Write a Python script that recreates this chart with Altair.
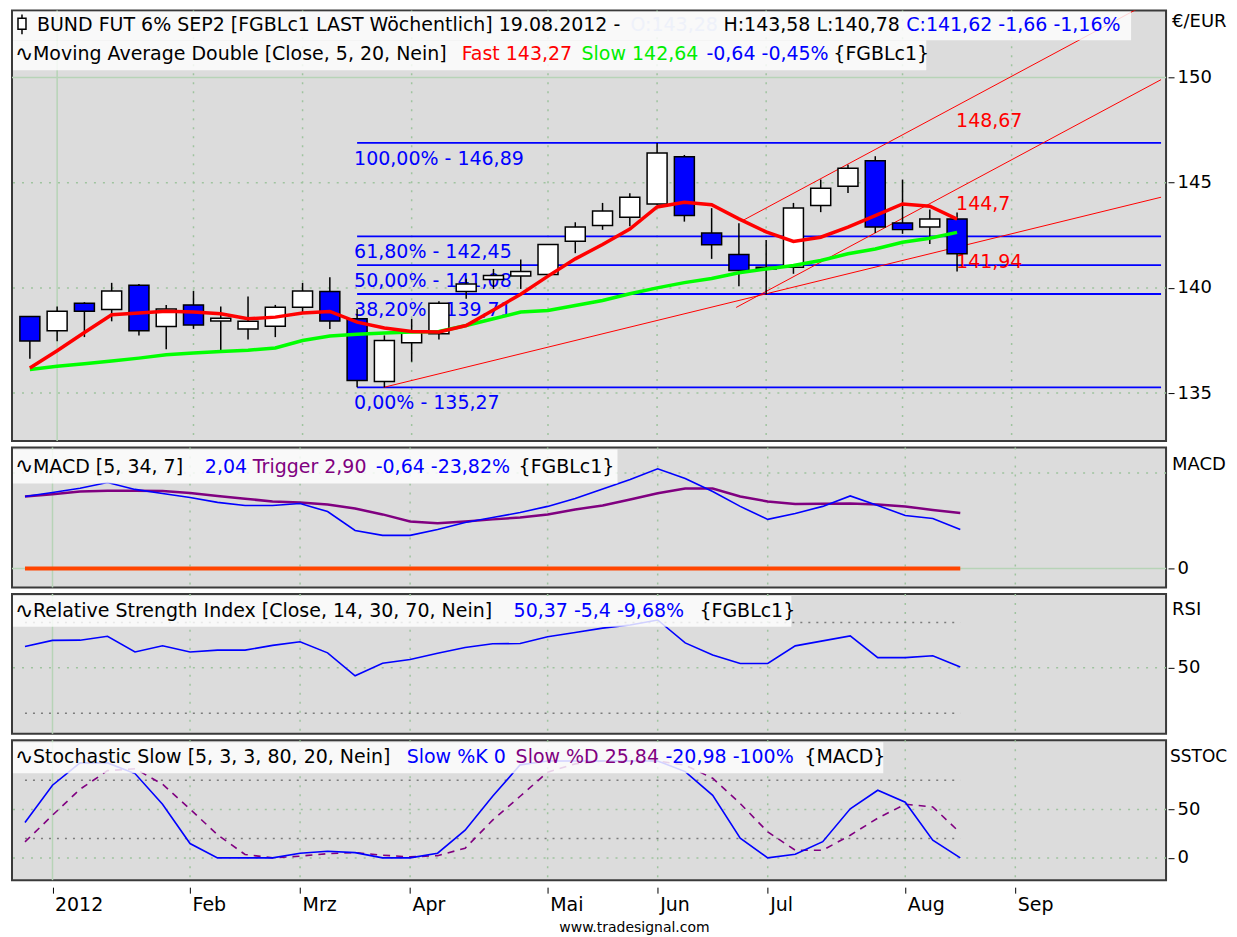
import altair as alt
import pandas as pd

# ------------------------------------------------------------------ data
week_start = ["25.12.2011", "01.01.2012", "08.01.2012", "15.01.2012", "22.01.2012", "29.01.2012",
              "05.02.2012", "12.02.2012", "19.02.2012", "26.02.2012", "04.03.2012", "11.03.2012",
              "18.03.2012", "25.03.2012", "01.04.2012", "08.04.2012", "15.04.2012", "22.04.2012",
              "29.04.2012", "06.05.2012", "13.05.2012", "20.05.2012", "27.05.2012", "03.06.2012",
              "10.06.2012", "17.06.2012", "24.06.2012", "01.07.2012", "08.07.2012", "15.07.2012",
              "22.07.2012", "29.07.2012", "05.08.2012", "12.08.2012", "19.08.2012"]
bar_index = list(range(35))

opens = [138.64, 137.96, 139.27, 138.97, 140.12, 138.17, 139.19, 138.42, 138.05, 138.18, 139.08, 139.83,
         138.53, 135.55, 137.39, 137.82, 139.83, 140.40, 140.56, 140.64, 142.22, 142.97, 143.36, 143.99,
         146.24, 142.61, 141.59, 140.98, 140.98, 143.92, 144.83, 146.05, 143.09, 142.89, 143.28]
highs = [138.66, 139.12, 139.32, 140.24, 140.18, 139.19, 139.85, 139.12, 139.59, 139.19, 140.24, 140.51,
         139.00, 137.74, 138.53, 139.36, 140.43, 140.90, 141.35, 142.08, 143.12, 144.04, 144.50, 146.89,
         146.32, 143.79, 143.07, 142.28, 144.04, 145.15, 145.85, 146.26, 145.15, 143.73, 143.58]
lows = [136.63, 137.46, 137.66, 138.41, 137.74, 137.08, 138.05, 137.03, 137.55, 137.66, 138.85, 138.05,
        135.28, 135.27, 136.49, 137.55, 139.48, 139.95, 139.95, 140.64, 141.65, 142.76, 142.93, 143.95,
        143.15, 141.38, 140.08, 139.67, 140.67, 143.60, 144.51, 142.61, 142.57, 142.09, 140.78]
closes = [137.48, 138.89, 138.89, 139.85, 137.96, 139.00, 138.24, 138.56, 138.41, 139.08, 139.85, 138.42,
          135.60, 137.50, 137.94, 139.27, 140.19, 140.59, 140.78, 142.06, 142.89, 143.65, 144.31, 146.41,
          143.44, 142.05, 140.83, 140.90, 143.80, 144.74, 145.69, 142.89, 142.77, 143.28, 141.62]
ma_fast = [136.19, 137.01, 137.88, 138.72, 138.81, 138.89, 138.85, 138.77, 138.53, 138.61, 138.81, 138.88,
           138.37, 138.09, 137.93, 137.90, 138.21, 138.95, 139.70, 140.56, 141.38, 142.06, 142.80, 143.85,
           144.07, 143.95, 143.28, 142.66, 142.21, 142.41, 142.89, 143.44, 143.99, 143.88, 143.27]
ma_slow = [136.12, 136.27, 136.39, 136.52, 136.66, 136.82, 136.90, 136.98, 137.04, 137.14, 137.50, 137.71,
           137.80, 137.85, 137.90, 137.93, 138.21, 138.53, 138.85, 138.93, 139.16, 139.40, 139.72, 140.00,
           140.25, 140.45, 140.72, 140.90, 141.06, 141.30, 141.62, 141.85, 142.17, 142.36, 142.64]

macd_line = [3.77, 3.98, 4.20, 4.50, 4.14, 3.93, 3.72, 3.46, 3.30, 3.30, 3.40, 2.98, 1.99, 1.73, 1.73,
             2.04, 2.41, 2.67, 2.93, 3.25, 3.66, 4.16, 4.66, 5.22, 4.71, 4.03, 3.25, 2.57, 2.88, 3.25,
             3.80, 3.30, 2.77, 2.62, 2.04]
macd_trigger = [3.77, 3.89, 4.03, 4.07, 4.07, 4.06, 3.95, 3.80, 3.65, 3.51, 3.46, 3.35, 3.14, 2.83, 2.46,
                2.37, 2.46, 2.57, 2.67, 2.83, 3.09, 3.30, 3.61, 3.94, 4.19, 4.19, 3.77, 3.51, 3.38, 3.39,
                3.40, 3.35, 3.25, 3.06, 2.90]
macd_zero_level = [0]

rsi = [59.4, 62.1, 62.2, 63.9, 57.0, 59.7, 57.0, 57.8, 57.8, 59.9, 61.5, 56.6, 46.5, 52.0, 53.7, 56.4,
       59.0, 60.6, 60.7, 63.7, 65.6, 67.5, 68.9, 71.1, 61.0, 55.7, 51.9, 51.9, 59.7, 61.9, 64.1, 54.5,
       54.5, 55.3, 50.37]
rsi_levels = [30, 70]

stoch_k = [36.5, 75.0, 98.0, 98.0, 87.0, 55.4, 14.8, 0.0, 0.0, 0.0, 4.8, 6.9, 5.4, 0.0, 0.0, 4.8, 28.6,
           63.6, 96.0, 100.0, 100.0, 100.0, 100.0, 100.0, 89.0, 64.6, 20.3, 0.0, 3.8, 16.7, 50.7, 69.8,
           57.4, 18.2, 0.0]
stoch_d = [16.5, 44.0, 70.8, 90.0, 92.0, 76.0, 50.4, 23.8, 3.5, 0.0, 1.8, 4.3, 5.4, 2.8, 1.0, 2.3, 10.0,
           38.9, 63.6, 88.4, 97.0, 100.0, 100.0, 100.0, 95.6, 82.2, 56.1, 26.8, 7.9, 7.9, 23.4, 41.0,
           55.4, 52.6, 25.84]
stoch_levels = [20, 80]

month_tick_idx = [1, 6, 10, 14, 19, 23, 27, 32, 36]
month_labels = ["2012", "Feb", "Mrz", "Apr", "Mai", "Jun", "Jul", "Aug", "Sep"]

fib_pct = ["100,00%", "61,80%", "50,00%", "38,20%", "0,00%"]
fib_levels = [146.89, 142.45, 141.08, 139.71, 135.27]
fib_start_idx = 12

trend_x1 = [12.97, 25.9, 26.15]
trend_y1 = [135.27, 139.07, 143.21]
trend_x2 = [41.48, 41.48, 41.48]
trend_y2 = [144.31, 149.90, 153.87]
trend_label_val = [148.67, 144.7, 141.94]
trend_label_txt = ["148,67", "144,7", "141,94"]

# ------------------------------------------------------------------ layout / style
FONT = "DejaVu Sans"
W = 1155
H_MAIN, H_SUB = 431, 140
TOP_MAIN, TOP_MACD, TOP_RSI, TOP_STO = 8, 446, 593, 740
LEFT = 10
X_MIN, X_MAX = -0.472, 41.48
BLUE, RED, GREEN, PURPLE = "#0000ff", "#ff0000", "#00ee00", "#800080"
GRID, GRID_SOLID, LEVEL = "#9fc39f", "#b7d3b7", "#7c7c7c"

xs = alt.Scale(domain=[X_MIN, X_MAX], nice=False, zero=False)
ONE = pd.DataFrame({"k": [0]})

label_expr = " : ".join(f"datum.value == {v} ? '{t}'" for v, t in zip(month_tick_idx, month_labels)) + " : ''"
x_axis_bottom = alt.Axis(values=month_tick_idx, labelExpr=label_expr, grid=False, domain=False,
                         ticks=True, tickColor="black", tickSize=6, tickWidth=1, offset=7,
                         labelAlign="left", labelBaseline="top", labelOffset=2, labelPadding=2,
                         labelFont=FONT, labelFontSize=19, labelColor="black", labelOverlap=False,
                         labelFlush=False, labelBound=False, title=None)


def y_axis(values, expr=None):
    kw = dict(orient="right", values=values, grid=False, domain=False, ticks=True, tickColor="black",
              tickSize=6, tickWidth=1, offset=2, labelPadding=3, labelFont=FONT, labelFontSize=18,
              labelColor="black", title=None, labelOverlap=False, labelFlush=False)
    if expr:
        kw["labelExpr"] = expr
    return alt.Axis(**kw)


def X(field, ax):
    return alt.X(f"{field}:Q", scale=xs, axis=ax)


def Y(field, sc, ax):
    return alt.Y(f"{field}:Q", scale=sc, axis=ax)


def grid_layers(sc, ax_x, ax_y, dotted_vals, solid_vals):
    out = [
        alt.Chart(pd.DataFrame({"t": month_tick_idx[1:]})).mark_rule(
            color=GRID, strokeWidth=1.5, strokeDash=[2, 7]).encode(x=X("t", ax_x)),
        alt.Chart(pd.DataFrame({"t": month_tick_idx[:1]})).mark_rule(
            color=GRID_SOLID, strokeWidth=1.5).encode(x=X("t", ax_x)),
    ]
    if dotted_vals:
        out.append(alt.Chart(pd.DataFrame({"v": dotted_vals})).mark_rule(
            color=GRID, strokeWidth=1.5, strokeDash=[2, 7]).encode(y=Y("v", sc, ax_y)))
    if solid_vals:
        out.append(alt.Chart(pd.DataFrame({"v": solid_vals})).mark_rule(
            color=GRID_SOLID, strokeWidth=1.5).encode(y=Y("v", sc, ax_y)))
    return out


def level_layer(vals, sc, ax_x, ax_y):
    d = pd.DataFrame({"v": vals, "a": bar_index[0], "b": bar_index[-1]})
    return alt.Chart(d).mark_rule(color=LEVEL, strokeWidth=1.5, strokeDash=[2, 6]).encode(
        x=X("a", ax_x), x2="b", y=Y("v", sc, ax_y))


def label(txt, color, px, py, top, size=19, align="left", **kw):
    return alt.Chart(ONE).mark_text(text=txt, color=color, align=align, baseline="middle", font=FONT,
                                    fontSize=size, **kw).encode(
        x=alt.value(px - LEFT), y=alt.value(py - top))


def box(x1, y1, x2, y2, top):
    return alt.Chart(ONE).mark_rect(fill="white", opacity=0.82).encode(
        x=alt.value(x1 - LEFT), x2=alt.value(x2 - LEFT), y=alt.value(y1 - top), y2=alt.value(y2 - top))


def header(boxes, segments, top):
    return [box(*b, top) for b in boxes] + [label(t, c, px, py, top) for t, c, px, py in segments]


def wave_icon(py, top):
    return label("∿", "black", 13, py, top, size=22)


# ------------------------------------------------------------------ price panel
ys_main = alt.Scale(domain=[132.719, 153.194], nice=False, zero=False)
ya_main = y_axis([135, 140, 145, 150])
cdf = pd.DataFrame({"i": bar_index, "week": week_start, "open": opens, "high": highs, "low": lows,
                    "close": closes, "fast": ma_fast, "slow": ma_slow})
fib = pd.DataFrame({"level": fib_levels, "x1": fib_start_idx, "x2": X_MAX,
                    "txt": [f"{p} - {f'{v:.2f}'.replace('.', ',')}" for p, v in zip(fib_pct, fib_levels)]})
trend = pd.DataFrame({"x1": trend_x1, "y1": trend_y1, "x2": trend_x2, "y2": trend_y2})
tlab = pd.DataFrame({"i": bar_index[-1], "v": trend_label_val, "txt": trend_label_txt})

main_layers = grid_layers(ys_main, None, ya_main, [135, 140, 145], [150]) + [
    alt.Chart(fib).mark_rule(color=BLUE, strokeWidth=1.8).encode(
        x=X("x1", None), x2="x2", y=Y("level", ys_main, ya_main)),
    alt.Chart(fib).mark_text(align="left", baseline="middle", dx=-3, dy=16, font=FONT, fontSize=19,
                             color=BLUE).encode(x=X("x1", None), y=Y("level", ys_main, ya_main), text="txt:N"),
    alt.Chart(trend).mark_rule(color=RED, strokeWidth=1, clip=True).encode(
        x=X("x1", None), x2="x2", y=Y("y1", ys_main, ya_main), y2="y2"),
    alt.Chart(tlab).mark_text(align="left", baseline="middle", dx=-1, dy=15, font=FONT, fontSize=19,
                              color=RED).encode(x=X("i", None), y=Y("v", ys_main, ya_main), text="txt:N"),
    alt.Chart(cdf).mark_rule(color="black", strokeWidth=1.5).encode(
        x=X("i", None), y=Y("low", ys_main, ya_main), y2="high"),
    alt.Chart(cdf).mark_bar(size=20, stroke="black", strokeWidth=1.5).encode(
        x=X("i", None), y=Y("open", ys_main, ya_main), y2="close",
        fill=alt.condition("datum.close < datum.open", alt.value(BLUE), alt.value("white"))),
    alt.Chart(cdf).mark_line(color="#00ff00", strokeWidth=3.5).encode(
        x=X("i", None), y=Y("slow", ys_main, ya_main)),
    alt.Chart(cdf).mark_line(color=RED, strokeWidth=3.5).encode(
        x=X("i", None), y=Y("fast", ys_main, ya_main)),
] + header(
    [(11, 9, 1130, 38), (11, 38, 925, 68)],
    [("BUND FUT 6% SEP2 [FGBLc1 LAST Wöchentlich] 19.08.2012 -", "black", 35, 23),
     ("O:143,28", "#eef1fa", 629, 23),
     ("H:143,58 L:140,78", "black", 722, 23),
     ("C:141,62 -1,66 -1,16%", BLUE, 905, 23),
     ("Moving Average Double [Close, 5, 20, Nein]", "black", 31, 52),
     ("Fast 143,27", RED, 460, 52),
     ("Slow 142,64", GREEN, 580, 52),
     ("-0,64 -0,45%", BLUE, 705, 52),
     ("{FGBLc1}", "black", 832, 52)], TOP_MAIN) + [
    wave_icon(52, TOP_MAIN),
    alt.Chart(ONE).mark_rule(color="black", strokeWidth=1.5).encode(
        x=alt.value(20 - LEFT), y=alt.value(12 - TOP_MAIN), y2=alt.value(32 - TOP_MAIN)),
    alt.Chart(ONE).mark_rect(fill="white", stroke="black", strokeWidth=1.5).encode(
        x=alt.value(16 - LEFT), x2=alt.value(24 - LEFT), y=alt.value(16 - TOP_MAIN), y2=alt.value(27 - TOP_MAIN)),
    label("€/EUR", "black", 1171, 20, TOP_MAIN, size=18),
]
main = alt.layer(*main_layers).properties(width=W, height=H_MAIN)

# ------------------------------------------------------------------ MACD panel
ys_macd = alt.Scale(domain=[-0.995, 6.335], nice=False, zero=False)
ya_macd = y_axis([0], None)
mdf = pd.DataFrame({"i": bar_index, "macd": macd_line, "trig": macd_trigger})
zdf = pd.DataFrame({"v": macd_zero_level, "a": bar_index[0], "b": bar_index[-1]})
macd_layers = grid_layers(ys_macd, None, ya_macd, [5], [0]) + [
    alt.Chart(zdf).mark_rule(color="#ff4500", strokeWidth=4).encode(
        x=X("a", None), x2="b", y=Y("v", ys_macd, ya_macd)),
    alt.Chart(mdf).mark_line(color=PURPLE, strokeWidth=2.5).encode(x=X("i", None), y=Y("trig", ys_macd, ya_macd)),
    alt.Chart(mdf).mark_line(color=BLUE, strokeWidth=1.6).encode(x=X("i", None), y=Y("macd", ys_macd, ya_macd)),
] + header(
    [(11, 448, 616, 482)],
    [("MACD [5, 34, 7]", "black", 31, 465),
     ("2,04", BLUE, 203, 465),
     ("Trigger 2,90", PURPLE, 251, 465),
     ("-0,64 -23,82%", BLUE, 374, 465),
     ("{FGBLc1}", "black", 517, 465)], TOP_MACD) + [
    wave_icon(465, TOP_MACD),
    label("MACD", "black", 1171, 463, TOP_MACD, size=18),
]
macd = alt.layer(*macd_layers).properties(width=W, height=H_SUB)

# ------------------------------------------------------------------ RSI panel
ys_rsi = alt.Scale(domain=[20.93, 82.6], nice=False, zero=False)
ya_rsi = y_axis([50])
rdf = pd.DataFrame({"i": bar_index, "rsi": rsi})
rsi_layers = grid_layers(ys_rsi, None, ya_rsi, [50], []) + [
    level_layer(rsi_levels, ys_rsi, None, ya_rsi),
    alt.Chart(rdf).mark_line(color=BLUE, strokeWidth=1.6).encode(x=X("i", None), y=Y("rsi", ys_rsi, ya_rsi)),
] + header(
    [(11, 595, 790, 626)],
    [("Relative Strength Index [Close, 14, 30, 70, Nein]", "black", 31, 610),
     ("50,37 -5,4 -9,68%", BLUE, 512, 610),
     ("{FGBLc1}", "black", 698, 610)], TOP_RSI) + [
    wave_icon(610, TOP_RSI),
    label("RSI", "black", 1171, 609, TOP_RSI, size=18),
]
rsi_panel = alt.layer(*rsi_layers).properties(width=W, height=H_SUB)

# ------------------------------------------------------------------ Stochastic panel
ys_sto = alt.Scale(domain=[-22.99, 121.34], nice=False, zero=False)
ya_sto = y_axis([0, 50])
sdf = pd.DataFrame({"i": bar_index, "k": stoch_k, "d": stoch_d})
sto_layers = grid_layers(ys_sto, x_axis_bottom, ya_sto, [0, 50], []) + [
    level_layer(stoch_levels, ys_sto, x_axis_bottom, ya_sto),
    alt.Chart(sdf).mark_line(color=PURPLE, strokeWidth=1.6, strokeDash=[7, 6]).encode(
        x=X("i", x_axis_bottom), y=Y("d", ys_sto, ya_sto)),
    alt.Chart(sdf).mark_line(color=BLUE, strokeWidth=1.6).encode(
        x=X("i", x_axis_bottom), y=Y("k", ys_sto, ya_sto)),
] + header(
    [(11, 742, 882, 773)],
    [("Stochastic Slow [5, 3, 3, 80, 20, Nein]", "black", 31, 757),
     ("Slow %K 0", BLUE, 405, 757),
     ("Slow %D 25,84", PURPLE, 514, 757),
     ("-20,98 -100%", BLUE, 664, 757),
     ("{MACD}", "black", 803, 757)], TOP_STO) + [
    wave_icon(757, TOP_STO),
    label("SSTOCH", "black", 1169, 757, TOP_STO, size=17, limit=60, ellipsis="\u200b"),
    label("www.tradesignal.com", "black", 633, 928, TOP_STO, size=14, align="center"),
]
sto = alt.layer(*sto_layers).properties(width=W, height=H_SUB)

chart = alt.vconcat(main, macd, rsi_panel, sto, spacing=2.5).properties(
    padding={"left": 2, "top": 0, "right": 0, "bottom": 0}, background="white"
).configure_view(fill="#dcdcdc", stroke="#3a3a3a", strokeWidth=2)

chart.save("out.html", embed_options={"renderer": "svg", "actions": False})
